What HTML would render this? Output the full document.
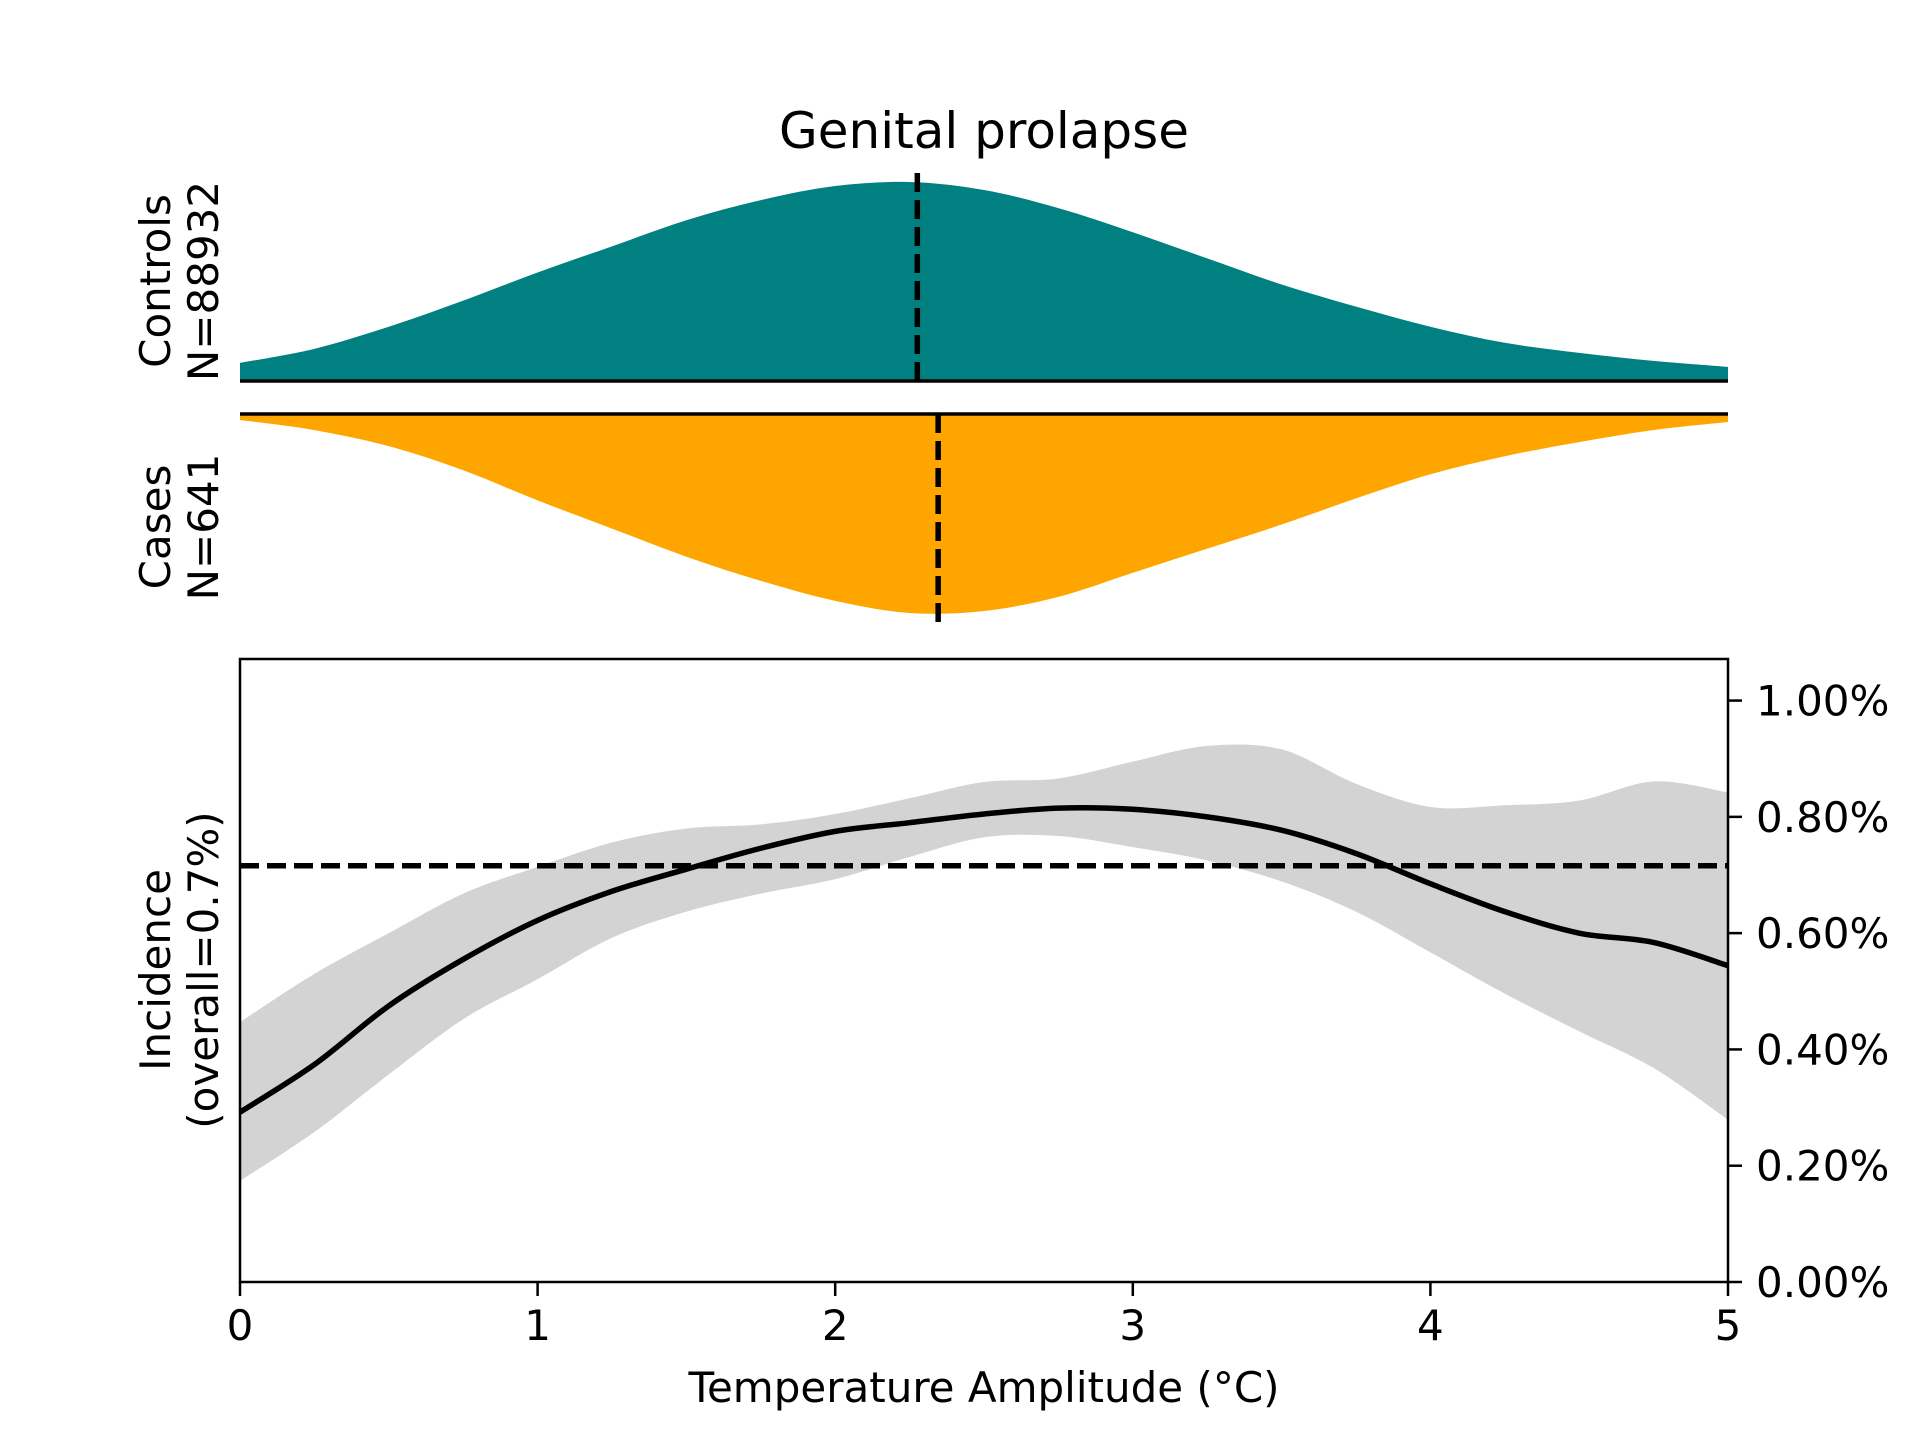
<!DOCTYPE html>
<html><head><meta charset="utf-8"><style>
body{margin:0;background:#fff}
svg{display:block;font-family:"DejaVu Sans","Liberation Sans",sans-serif}
</style></head><body>
<svg id="chart" width="1920" height="1440" viewBox="0 0 1920 1440" xmlns="http://www.w3.org/2000/svg">
<text x="984" y="148" font-size="50" text-anchor="middle">Genital prolapse</text>
<g id="topPanel"></g>
<g id="bottomPanel"></g>
<text transform="translate(170,281) rotate(-90)" font-size="42" text-anchor="middle">Controls</text>
<text transform="translate(218,281) rotate(-90)" font-size="42" text-anchor="middle">N=88932</text>
<text transform="translate(170,527) rotate(-90)" font-size="42" text-anchor="middle">Cases</text>
<text transform="translate(218,527) rotate(-90)" font-size="42" text-anchor="middle">N=641</text>
<text transform="translate(170,970) rotate(-90)" font-size="42" text-anchor="middle">Incidence</text>
<text transform="translate(218,970) rotate(-90)" font-size="42" text-anchor="middle">(overall=0.7%)</text>
<text x="984" y="1402" font-size="42" text-anchor="middle">Temperature Amplitude (°C)</text>
</svg>
<script>
const densX = [0,0.25,0.5,0.75,1,1.25,1.5,1.75,2,2.25,2.5,2.75,3,3.25,3.5,3.75,4,4.25,4.5,4.75,5];
const controlsDensity = [0.09,0.16,0.27,0.40,0.54,0.67,0.80,0.90,0.97,0.99,0.95,0.86,0.74,0.61,0.48,0.37,0.27,0.19,0.14,0.10,0.07];
const casesDensity = [0.03,0.08,0.16,0.28,0.43,0.57,0.71,0.83,0.93,0.99,0.98,0.91,0.79,0.67,0.55,0.42,0.30,0.21,0.14,0.08,0.04];
const controlsMedian = 2.276;
const casesMedian = 2.346;
const incX = [0,0.25,0.5,0.75,1,1.25,1.5,1.75,2,2.25,2.5,2.75,3,3.25,3.5,3.75,4,4.25,4.5,4.75,5];
const incidence = [0.292,0.374,0.475,0.555,0.622,0.672,0.71,0.746,0.775,0.79,0.805,0.815,0.813,0.80,0.777,0.737,0.685,0.637,0.60,0.584,0.544];
const upperCI = [0.447,0.53,0.60,0.668,0.714,0.756,0.78,0.787,0.805,0.832,0.86,0.866,0.895,0.922,0.916,0.857,0.817,0.82,0.828,0.861,0.842];
const lowerCI = [0.174,0.258,0.357,0.452,0.521,0.592,0.637,0.668,0.693,0.731,0.765,0.767,0.748,0.725,0.689,0.637,0.567,0.496,0.431,0.368,0.279];
const overall = 0.716;
const xTicks = [0,1,2,3,4,5];
const yTicks = [0,0.2,0.4,0.6,0.8,1.0];
const yTickLabels = ["0.00%","0.20%","0.40%","0.60%","0.80%","1.00%"];

const NS="http://www.w3.org/2000/svg";
const X0=240,X1=1728,Y0=1282,YT=659,YMAX=1.0715;
const sx=v=>X0+(v/5)*(X1-X0);
const sy=v=>Y0-(v/YMAX)*(Y0-YT);
const CB=381,CA=414,DH=201;
function mk(tag,attrs,parent){const e=document.createElementNS(NS,tag);for(const k in attrs)e.setAttribute(k,attrs[k]);parent.appendChild(e);return e;}
function smooth(pts,start){
  let s=start?'L':'M';s+=pts[0][0]+','+pts[0][1];
  for(let i=0;i<pts.length-1;i++){
    const p0=pts[Math.max(0,i-1)],p1=pts[i],p2=pts[i+1],p3=pts[Math.min(pts.length-1,i+2)];
    const c1=[p1[0]+(p2[0]-p0[0])/6,p1[1]+(p2[1]-p0[1])/6];
    const c2=[p2[0]-(p3[0]-p1[0])/6,p2[1]-(p3[1]-p1[1])/6];
    s+=`C${c1[0]},${c1[1]} ${c2[0]},${c2[1]} ${p2[0]},${p2[1]}`;
  }
  return s;
}
const topG=document.getElementById('topPanel'),botG=document.getElementById('bottomPanel');

let d=`M${sx(0)},${CB}`+smooth(densX.map((x,i)=>[sx(x),CB-controlsDensity[i]*DH]),true)+`L${sx(5)},${CB}Z`;
let p=mk('path',{d,fill:'#008080'},topG);


d=`M${sx(0)},${CA}`+smooth(densX.map((x,i)=>[sx(x),CA+casesDensity[i]*DH]),true)+`L${sx(5)},${CA}Z`;
p=mk('path',{d,fill:'#FFA500'},topG);


let l=mk('line',{x1:X0,x2:X1,y1:CB,y2:CB,stroke:'#000','stroke-width':3.5},topG);


l=mk('line',{x1:X0,x2:X1,y1:CA,y2:CA,stroke:'#000','stroke-width':3.5},topG);


l=mk('line',{x1:sx(controlsMedian),x2:sx(controlsMedian),y1:173,y2:CB,stroke:'#000','stroke-width':5.5,'stroke-dasharray':'19,8'},topG);


l=mk('line',{x1:sx(casesMedian),x2:sx(casesMedian),y1:CA,y2:622,stroke:'#000','stroke-width':5.5,'stroke-dasharray':'19,8'},topG);



const up=incX.map((x,i)=>[sx(x),sy(upperCI[i])]);
const lo=incX.map((x,i)=>[sx(x),sy(lowerCI[i])]).reverse();
d=smooth(up,false)+smooth(lo,true)+'Z';
p=mk('path',{d,fill:'#d3d3d3'},botG);


l=mk('line',{x1:X0,x2:X1,y1:sy(overall),y2:sy(overall),stroke:'#000','stroke-width':5.5,'stroke-dasharray':'19,8'},botG);


d=smooth(incX.map((x,i)=>[sx(x),sy(incidence[i])]),false);
p=mk('path',{d,fill:'none',stroke:'#000','stroke-width':5.5,'stroke-linejoin':'round'},botG);


let r=mk('rect',{x:X0,y:YT,width:X1-X0,height:Y0-YT,fill:'none',stroke:'#000','stroke-width':2.5},botG);


xTicks.forEach(v=>{
  const t=mk('line',{x1:sx(v),x2:sx(v),y1:Y0,y2:Y0+14,stroke:'#000','stroke-width':2.5},botG);
  
  
  const tx=mk('text',{x:sx(v),y:Y0+58,'font-size':42,'text-anchor':'middle'},botG);tx.textContent=v;
  
  
});
yTicks.forEach((v,i)=>{
  const t=mk('line',{x1:X1,x2:X1+14,y1:sy(v),y2:sy(v),stroke:'#000','stroke-width':2.5},botG);
  
  
  const tx=mk('text',{x:X1+28,y:sy(v)+15,'font-size':42},botG);tx.textContent=yTickLabels[i];
  
  
});
</script>
</body></html>
